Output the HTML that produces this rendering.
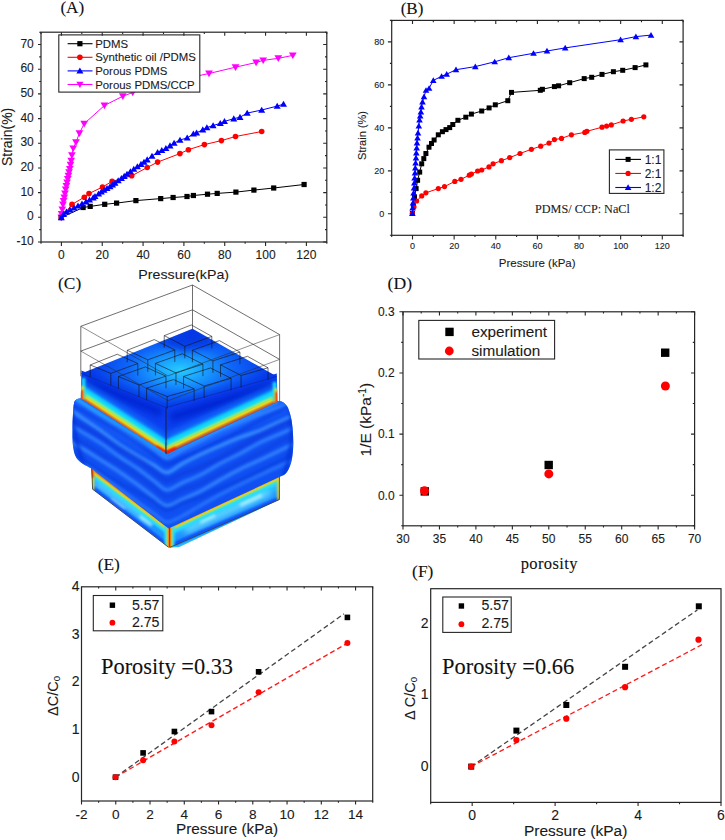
<!DOCTYPE html>
<html><head><meta charset="utf-8"><style>
html,body{margin:0;padding:0;background:#fff;}
body{width:725px;height:840px;overflow:hidden;}
svg{display:block;}
</style></head><body>
<svg width="725" height="840" viewBox="0 0 725 840">
<rect width="725" height="840" fill="#fff"/>
<path d="M61.3 217.5L61.6 214.1L62.3 209.5L63 204.5L63.6 201L64.3 197.6L65 193.5L65.7 189.4L66.4 186L67.1 182.6L67.8 179L68.4 175.7L69.1 172.3L69.8 168.9L70.5 164.8L71.2 160.7L71.9 155.2L73.2 148.4L76 142.2L79.4 133.3L84.2 123.7L104.4 105.5L122.8 96.2L132.7 92.5L150 87L170 82L190 77.5L209 73.5L235.5 67.2L256.1 62.5L263.2 60.4L278.3 58.3L292.8 55.4" stroke="#ff00ff" stroke-width="1.0" fill="none"/>
<path d="M61.3 221.18L65.15 214.53L57.45 214.53Z" fill="#ff00ff"/>
<path d="M61.6 217.78L65.45 211.12L57.75 211.12Z" fill="#ff00ff"/>
<path d="M62.3 213.18L66.15 206.53L58.45 206.53Z" fill="#ff00ff"/>
<path d="M63 208.18L66.85 201.53L59.15 201.53Z" fill="#ff00ff"/>
<path d="M63.6 204.68L67.45 198.03L59.75 198.03Z" fill="#ff00ff"/>
<path d="M64.3 201.28L68.15 194.62L60.45 194.62Z" fill="#ff00ff"/>
<path d="M65 197.18L68.85 190.53L61.15 190.53Z" fill="#ff00ff"/>
<path d="M65.7 193.08L69.55 186.43L61.85 186.43Z" fill="#ff00ff"/>
<path d="M66.4 189.68L70.25 183.03L62.55 183.03Z" fill="#ff00ff"/>
<path d="M67.1 186.28L70.95 179.62L63.25 179.62Z" fill="#ff00ff"/>
<path d="M67.8 182.68L71.65 176.03L63.95 176.03Z" fill="#ff00ff"/>
<path d="M68.4 179.38L72.25 172.72L64.55 172.72Z" fill="#ff00ff"/>
<path d="M69.1 175.98L72.95 169.33L65.25 169.33Z" fill="#ff00ff"/>
<path d="M69.8 172.58L73.65 165.93L65.95 165.93Z" fill="#ff00ff"/>
<path d="M70.5 168.48L74.35 161.83L66.65 161.83Z" fill="#ff00ff"/>
<path d="M71.2 164.38L75.05 157.72L67.35 157.72Z" fill="#ff00ff"/>
<path d="M71.9 158.88L75.75 152.22L68.05 152.22Z" fill="#ff00ff"/>
<path d="M73.2 152.08L77.05 145.43L69.35 145.43Z" fill="#ff00ff"/>
<path d="M76 145.88L79.85 139.22L72.15 139.22Z" fill="#ff00ff"/>
<path d="M79.4 136.98L83.25 130.33L75.55 130.33Z" fill="#ff00ff"/>
<path d="M84.2 127.38L88.05 120.73L80.35 120.73Z" fill="#ff00ff"/>
<path d="M104.4 109.17L108.25 102.53L100.55 102.53Z" fill="#ff00ff"/>
<path d="M122.8 99.88L126.65 93.23L118.95 93.23Z" fill="#ff00ff"/>
<path d="M132.7 96.17L136.55 89.53L128.85 89.53Z" fill="#ff00ff"/>
<path d="M150 90.67L153.85 84.03L146.15 84.03Z" fill="#ff00ff"/>
<path d="M170 85.67L173.85 79.03L166.15 79.03Z" fill="#ff00ff"/>
<path d="M190 81.17L193.85 74.53L186.15 74.53Z" fill="#ff00ff"/>
<path d="M209 77.17L212.85 70.53L205.15 70.53Z" fill="#ff00ff"/>
<path d="M235.5 70.88L239.35 64.23L231.65 64.23Z" fill="#ff00ff"/>
<path d="M256.1 66.17L259.95 59.52L252.25 59.52Z" fill="#ff00ff"/>
<path d="M263.2 64.08L267.05 57.42L259.35 57.42Z" fill="#ff00ff"/>
<path d="M278.3 61.97L282.15 55.32L274.45 55.32Z" fill="#ff00ff"/>
<path d="M292.8 59.07L296.65 52.42L288.95 52.42Z" fill="#ff00ff"/>
<path d="M61.3 217.5L83.1 207.5L90.2 206.4L104.7 204.3L116.6 203.1L135.9 200.6L160.7 198.6L173.1 197.5L187 196.5L193.4 195.5L207.5 194.2L217.2 193.4L235.9 192.1L253.9 190.1L273.7 188L304.1 184.5" stroke="#000" stroke-width="1.0" fill="none"/>
<rect x="58.7" y="214.9" width="5.2" height="5.2" fill="#000"/>
<rect x="80.5" y="204.9" width="5.2" height="5.2" fill="#000"/>
<rect x="87.6" y="203.8" width="5.2" height="5.2" fill="#000"/>
<rect x="102.1" y="201.7" width="5.2" height="5.2" fill="#000"/>
<rect x="114" y="200.5" width="5.2" height="5.2" fill="#000"/>
<rect x="133.3" y="198" width="5.2" height="5.2" fill="#000"/>
<rect x="158.1" y="196" width="5.2" height="5.2" fill="#000"/>
<rect x="170.5" y="194.9" width="5.2" height="5.2" fill="#000"/>
<rect x="184.4" y="193.9" width="5.2" height="5.2" fill="#000"/>
<rect x="190.8" y="192.9" width="5.2" height="5.2" fill="#000"/>
<rect x="204.9" y="191.6" width="5.2" height="5.2" fill="#000"/>
<rect x="214.6" y="190.8" width="5.2" height="5.2" fill="#000"/>
<rect x="233.3" y="189.5" width="5.2" height="5.2" fill="#000"/>
<rect x="251.3" y="187.5" width="5.2" height="5.2" fill="#000"/>
<rect x="271.1" y="185.4" width="5.2" height="5.2" fill="#000"/>
<rect x="301.5" y="181.9" width="5.2" height="5.2" fill="#000"/>
<path d="M61.3 217.5L72 204.4L84.3 197.2L89 193.6L102.5 187L112.1 181.4L131.7 175.8L147.2 167.5L157.6 162.1L179.9 153.6L188.4 149.7L204.4 144.6L221.4 140.6L235.5 136.5L261.7 131.5" stroke="#ff0000" stroke-width="1.0" fill="none"/>
<circle cx="61.3" cy="217.5" r="2.8" fill="#ff0000"/>
<circle cx="72" cy="204.4" r="2.8" fill="#ff0000"/>
<circle cx="84.3" cy="197.2" r="2.8" fill="#ff0000"/>
<circle cx="89" cy="193.6" r="2.8" fill="#ff0000"/>
<circle cx="102.5" cy="187" r="2.8" fill="#ff0000"/>
<circle cx="112.1" cy="181.4" r="2.8" fill="#ff0000"/>
<circle cx="131.7" cy="175.8" r="2.8" fill="#ff0000"/>
<circle cx="147.2" cy="167.5" r="2.8" fill="#ff0000"/>
<circle cx="157.6" cy="162.1" r="2.8" fill="#ff0000"/>
<circle cx="179.9" cy="153.6" r="2.8" fill="#ff0000"/>
<circle cx="188.4" cy="149.7" r="2.8" fill="#ff0000"/>
<circle cx="204.4" cy="144.6" r="2.8" fill="#ff0000"/>
<circle cx="221.4" cy="140.6" r="2.8" fill="#ff0000"/>
<circle cx="235.5" cy="136.5" r="2.8" fill="#ff0000"/>
<circle cx="261.7" cy="131.5" r="2.8" fill="#ff0000"/>
<path d="M61.3 217.5L63.5 214.2L66.5 211.8L70 209.8L74 207.8L78 205.8L82 203.8L86 201.7L89.5 199.9L93.2 197.7L95 196.4L98.6 193.8L101.3 191.9L104 190L107 188.3L110 186.6L112.5 184.8L115 183L118.2 180.6L121.4 178.3L124.2 176.2L127 174L130.4 171.5L133.8 169L137.4 166.6L141 164.2L144 162L147.2 159.7L152 156L157.6 152.4L161.8 150.3L165.9 148.3L170 145.7L174.1 143.1L180 140L187.2 137.9L193.4 133.8L196.6 132.8L202.8 129.7L206.9 127.6L213.1 125.5L220.3 123.4L224.5 121.4L233.8 118.7L240 117.2L247.2 113.1L261.7 110L277.2 106.1L283.5 104.1" stroke="#0000ff" stroke-width="1.0" fill="none"/>
<path d="M61.3 214.14L64.82 220.22L57.78 220.22Z" fill="#0000ff"/>
<path d="M63.5 210.84L67.02 216.92L59.98 216.92Z" fill="#0000ff"/>
<path d="M66.5 208.44L70.02 214.52L62.98 214.52Z" fill="#0000ff"/>
<path d="M70 206.44L73.52 212.52L66.48 212.52Z" fill="#0000ff"/>
<path d="M74 204.44L77.52 210.52L70.48 210.52Z" fill="#0000ff"/>
<path d="M78 202.44L81.52 208.52L74.48 208.52Z" fill="#0000ff"/>
<path d="M82 200.44L85.52 206.52L78.48 206.52Z" fill="#0000ff"/>
<path d="M86 198.34L89.52 204.42L82.48 204.42Z" fill="#0000ff"/>
<path d="M89.5 196.54L93.02 202.62L85.98 202.62Z" fill="#0000ff"/>
<path d="M93.2 194.34L96.72 200.42L89.68 200.42Z" fill="#0000ff"/>
<path d="M95 193.04L98.52 199.12L91.48 199.12Z" fill="#0000ff"/>
<path d="M98.6 190.44L102.12 196.52L95.08 196.52Z" fill="#0000ff"/>
<path d="M101.3 188.54L104.82 194.62L97.78 194.62Z" fill="#0000ff"/>
<path d="M104 186.64L107.52 192.72L100.48 192.72Z" fill="#0000ff"/>
<path d="M107 184.94L110.52 191.02L103.48 191.02Z" fill="#0000ff"/>
<path d="M110 183.24L113.52 189.32L106.48 189.32Z" fill="#0000ff"/>
<path d="M112.5 181.44L116.02 187.52L108.98 187.52Z" fill="#0000ff"/>
<path d="M115 179.64L118.52 185.72L111.48 185.72Z" fill="#0000ff"/>
<path d="M118.2 177.24L121.72 183.32L114.68 183.32Z" fill="#0000ff"/>
<path d="M121.4 174.94L124.92 181.02L117.88 181.02Z" fill="#0000ff"/>
<path d="M124.2 172.84L127.72 178.92L120.68 178.92Z" fill="#0000ff"/>
<path d="M127 170.64L130.52 176.72L123.48 176.72Z" fill="#0000ff"/>
<path d="M130.4 168.14L133.92 174.22L126.88 174.22Z" fill="#0000ff"/>
<path d="M133.8 165.64L137.32 171.72L130.28 171.72Z" fill="#0000ff"/>
<path d="M137.4 163.24L140.92 169.32L133.88 169.32Z" fill="#0000ff"/>
<path d="M141 160.84L144.52 166.92L137.48 166.92Z" fill="#0000ff"/>
<path d="M144 158.64L147.52 164.72L140.48 164.72Z" fill="#0000ff"/>
<path d="M147.2 156.34L150.72 162.42L143.68 162.42Z" fill="#0000ff"/>
<path d="M152 152.64L155.52 158.72L148.48 158.72Z" fill="#0000ff"/>
<path d="M157.6 149.04L161.12 155.12L154.08 155.12Z" fill="#0000ff"/>
<path d="M161.8 146.94L165.32 153.02L158.28 153.02Z" fill="#0000ff"/>
<path d="M165.9 144.94L169.42 151.02L162.38 151.02Z" fill="#0000ff"/>
<path d="M170 142.34L173.52 148.42L166.48 148.42Z" fill="#0000ff"/>
<path d="M174.1 139.74L177.62 145.82L170.58 145.82Z" fill="#0000ff"/>
<path d="M180 136.64L183.52 142.72L176.48 142.72Z" fill="#0000ff"/>
<path d="M187.2 134.54L190.72 140.62L183.68 140.62Z" fill="#0000ff"/>
<path d="M193.4 130.44L196.92 136.52L189.88 136.52Z" fill="#0000ff"/>
<path d="M196.6 129.44L200.12 135.52L193.08 135.52Z" fill="#0000ff"/>
<path d="M202.8 126.34L206.32 132.42L199.28 132.42Z" fill="#0000ff"/>
<path d="M206.9 124.24L210.42 130.32L203.38 130.32Z" fill="#0000ff"/>
<path d="M213.1 122.14L216.62 128.22L209.58 128.22Z" fill="#0000ff"/>
<path d="M220.3 120.04L223.82 126.12L216.78 126.12Z" fill="#0000ff"/>
<path d="M224.5 118.04L228.02 124.12L220.98 124.12Z" fill="#0000ff"/>
<path d="M233.8 115.34L237.32 121.42L230.28 121.42Z" fill="#0000ff"/>
<path d="M240 113.84L243.52 119.92L236.48 119.92Z" fill="#0000ff"/>
<path d="M247.2 109.74L250.72 115.82L243.68 115.82Z" fill="#0000ff"/>
<path d="M261.7 106.64L265.22 112.72L258.18 112.72Z" fill="#0000ff"/>
<path d="M277.2 102.74L280.72 108.82L273.68 108.82Z" fill="#0000ff"/>
<path d="M283.5 100.74L287.02 106.82L279.98 106.82Z" fill="#0000ff"/>
<rect x="58.8" y="34.9" width="141" height="57.2" fill="#fff" stroke="#262626" stroke-width="1.1"/>
<path d="M67.6 43.7H92.5" stroke="#000" stroke-width="1.1"/>
<rect x="77.3" y="41.1" width="5.2" height="5.2" fill="#000"/>
<text x="95.2" y="47.8" font-size="11.4" text-anchor="start" font-family='"Liberation Sans", sans-serif' fill="#1a1a1a" stroke="#1a1a1a" stroke-width="0.1" >PDMS</text>
<path d="M67.6 57.3H92.5" stroke="#ff0000" stroke-width="1.1"/>
<circle cx="79.9" cy="57.3" r="2.8" fill="#ff0000"/>
<text x="95.2" y="61.4" font-size="11.4" text-anchor="start" font-family='"Liberation Sans", sans-serif' fill="#1a1a1a" stroke="#1a1a1a" stroke-width="0.1" >Synthetic oil /PDMS</text>
<path d="M67.6 70.9H92.5" stroke="#0000ff" stroke-width="1.1"/>
<path d="M79.9 67.54L83.42 73.62L76.38 73.62Z" fill="#0000ff"/>
<text x="95.2" y="75" font-size="11.4" text-anchor="start" font-family='"Liberation Sans", sans-serif' fill="#1a1a1a" stroke="#1a1a1a" stroke-width="0.1" >Porous PDMS</text>
<path d="M67.6 84.5H92.5" stroke="#ff00ff" stroke-width="1.1"/>
<path d="M79.9 87.91L83.48 81.74L76.33 81.74Z" fill="#ff00ff"/>
<text x="95.2" y="88.6" font-size="11.4" text-anchor="start" font-family='"Liberation Sans", sans-serif' fill="#1a1a1a" stroke="#1a1a1a" stroke-width="0.1" >Porous PDMS/CCP</text>
<rect x="41" y="32.2" width="285.8" height="209.8" fill="none" stroke="#262626" stroke-width="1.2"/>
<path d="M41 242H38M41 217.32H38M41 192.64H38M41 167.95H38M41 143.27H38M41 118.59H38M41 93.91H38M41 69.22H38M41 44.54H38" stroke="#262626" stroke-width="1.1" fill="none"/>
<path d="M41 229.66H39.2M41 204.98H39.2M41 180.29H39.2M41 155.61H39.2M41 130.93H39.2M41 106.25H39.2M41 81.56H39.2M41 56.88H39.2M41 32.2H39.2" stroke="#262626" stroke-width="1.1" fill="none"/>
<path d="M61.41 242V246.1M102.24 242V246.1M143.07 242V246.1M183.9 242V246.1M224.73 242V246.1M265.56 242V246.1M306.39 242V246.1" stroke="#262626" stroke-width="1.1" fill="none"/>
<path d="M41 242V243.8M81.83 242V243.8M122.66 242V243.8M163.49 242V243.8M204.31 242V243.8M245.14 242V243.8M285.97 242V243.8M326.8 242V243.8" stroke="#262626" stroke-width="1.1" fill="none"/>
<path d="M61.41 32.2V35.8M102.24 32.2V35.8M143.07 32.2V35.8M183.9 32.2V35.8M224.73 32.2V35.8M265.56 32.2V35.8M306.39 32.2V35.8" stroke="#262626" stroke-width="1.1" fill="none"/>
<path d="M41 32.2V34M81.83 32.2V34M122.66 32.2V34M163.49 32.2V34M204.31 32.2V34M245.14 32.2V34M285.97 32.2V34M326.8 32.2V34" stroke="#262626" stroke-width="1.1" fill="none"/>
<path d="M326.8 242H323.2M326.8 217.32H323.2M326.8 192.64H323.2M326.8 167.95H323.2M326.8 143.27H323.2M326.8 118.59H323.2M326.8 93.91H323.2M326.8 69.22H323.2M326.8 44.54H323.2" stroke="#262626" stroke-width="1.1" fill="none"/>
<path d="M326.8 229.66H325M326.8 204.98H325M326.8 180.29H325M326.8 155.61H325M326.8 130.93H325M326.8 106.25H325M326.8 81.56H325M326.8 56.88H325M326.8 32.2H325" stroke="#262626" stroke-width="1.1" fill="none"/>
<text x="33.8" y="245" font-size="12" text-anchor="end" font-family='"Liberation Sans", sans-serif' fill="#1a1a1a" stroke="#1a1a1a" stroke-width="0.1" >-10</text>
<text x="33.8" y="220.32" font-size="12" text-anchor="end" font-family='"Liberation Sans", sans-serif' fill="#1a1a1a" stroke="#1a1a1a" stroke-width="0.1" >0</text>
<text x="33.8" y="195.64" font-size="12" text-anchor="end" font-family='"Liberation Sans", sans-serif' fill="#1a1a1a" stroke="#1a1a1a" stroke-width="0.1" >10</text>
<text x="33.8" y="170.95" font-size="12" text-anchor="end" font-family='"Liberation Sans", sans-serif' fill="#1a1a1a" stroke="#1a1a1a" stroke-width="0.1" >20</text>
<text x="33.8" y="146.27" font-size="12" text-anchor="end" font-family='"Liberation Sans", sans-serif' fill="#1a1a1a" stroke="#1a1a1a" stroke-width="0.1" >30</text>
<text x="33.8" y="121.59" font-size="12" text-anchor="end" font-family='"Liberation Sans", sans-serif' fill="#1a1a1a" stroke="#1a1a1a" stroke-width="0.1" >40</text>
<text x="33.8" y="96.91" font-size="12" text-anchor="end" font-family='"Liberation Sans", sans-serif' fill="#1a1a1a" stroke="#1a1a1a" stroke-width="0.1" >50</text>
<text x="33.8" y="72.22" font-size="12" text-anchor="end" font-family='"Liberation Sans", sans-serif' fill="#1a1a1a" stroke="#1a1a1a" stroke-width="0.1" >60</text>
<text x="33.8" y="47.54" font-size="12" text-anchor="end" font-family='"Liberation Sans", sans-serif' fill="#1a1a1a" stroke="#1a1a1a" stroke-width="0.1" >70</text>
<text x="61.41" y="258.5" font-size="12" text-anchor="middle" font-family='"Liberation Sans", sans-serif' fill="#1a1a1a" stroke="#1a1a1a" stroke-width="0.1" >0</text>
<text x="102.24" y="258.5" font-size="12" text-anchor="middle" font-family='"Liberation Sans", sans-serif' fill="#1a1a1a" stroke="#1a1a1a" stroke-width="0.1" >20</text>
<text x="143.07" y="258.5" font-size="12" text-anchor="middle" font-family='"Liberation Sans", sans-serif' fill="#1a1a1a" stroke="#1a1a1a" stroke-width="0.1" >40</text>
<text x="183.9" y="258.5" font-size="12" text-anchor="middle" font-family='"Liberation Sans", sans-serif' fill="#1a1a1a" stroke="#1a1a1a" stroke-width="0.1" >60</text>
<text x="224.73" y="258.5" font-size="12" text-anchor="middle" font-family='"Liberation Sans", sans-serif' fill="#1a1a1a" stroke="#1a1a1a" stroke-width="0.1" >80</text>
<text x="265.56" y="258.5" font-size="12" text-anchor="middle" font-family='"Liberation Sans", sans-serif' fill="#1a1a1a" stroke="#1a1a1a" stroke-width="0.1" >100</text>
<text x="306.39" y="258.5" font-size="12" text-anchor="middle" font-family='"Liberation Sans", sans-serif' fill="#1a1a1a" stroke="#1a1a1a" stroke-width="0.1" >120</text>
<text x="183.7" y="279.3" font-size="13.4" text-anchor="middle" font-family='"Liberation Sans", sans-serif' fill="#1a1a1a" stroke="#1a1a1a" stroke-width="0.1" transform="translate(183.7 0) scale(1.06 1) translate(-183.7 0)">Pressure(kPa)</text>
<text x="11.8" y="136.9" font-size="14" text-anchor="middle" font-family='"Liberation Sans", sans-serif' fill="#1a1a1a" stroke="#1a1a1a" stroke-width="0.1" transform="rotate(-90 11.8 136.9)">Strain(%)</text>
<text x="60.4" y="13.3" font-size="17.2" text-anchor="start" font-family='"Liberation Serif", serif' fill="#111" stroke="#111" stroke-width="0.1" >(A)</text>
<path d="M412.4 213.5L413.4 205.2L414.5 196.9L416.1 188.6L417.6 180.3L419.7 172.1L421.7 163.8L423.8 158.6L425.9 153.5L429 147.2L431.5 143.5L434.1 140L438.3 134.8L442.4 131.7L446 129.6L449.7 127.6L452.8 124.5L457.9 120.3L465.8 117.2L471.4 114.1L481.7 111L489.1 107.9L495.3 104.8L507.8 100.7L511.5 92.4L540.3 90.3L542.4 89.3L554.4 86.6L558.6 85.8L569.7 82.7L584.2 78.6L591.7 77.3L602 74.4L613.4 71.7L622.7 70.3L635.1 67.6L645.9 64.9" stroke="#000" stroke-width="1.0" fill="none"/>
<rect x="409.9" y="211" width="5" height="5" fill="#000"/>
<rect x="410.9" y="202.7" width="5" height="5" fill="#000"/>
<rect x="412" y="194.4" width="5" height="5" fill="#000"/>
<rect x="413.6" y="186.1" width="5" height="5" fill="#000"/>
<rect x="415.1" y="177.8" width="5" height="5" fill="#000"/>
<rect x="417.2" y="169.6" width="5" height="5" fill="#000"/>
<rect x="419.2" y="161.3" width="5" height="5" fill="#000"/>
<rect x="421.3" y="156.1" width="5" height="5" fill="#000"/>
<rect x="423.4" y="151" width="5" height="5" fill="#000"/>
<rect x="426.5" y="144.7" width="5" height="5" fill="#000"/>
<rect x="429" y="141" width="5" height="5" fill="#000"/>
<rect x="431.6" y="137.5" width="5" height="5" fill="#000"/>
<rect x="435.8" y="132.3" width="5" height="5" fill="#000"/>
<rect x="439.9" y="129.2" width="5" height="5" fill="#000"/>
<rect x="443.5" y="127.1" width="5" height="5" fill="#000"/>
<rect x="447.2" y="125.1" width="5" height="5" fill="#000"/>
<rect x="450.3" y="122" width="5" height="5" fill="#000"/>
<rect x="455.4" y="117.8" width="5" height="5" fill="#000"/>
<rect x="463.3" y="114.7" width="5" height="5" fill="#000"/>
<rect x="468.9" y="111.6" width="5" height="5" fill="#000"/>
<rect x="479.2" y="108.5" width="5" height="5" fill="#000"/>
<rect x="486.6" y="105.4" width="5" height="5" fill="#000"/>
<rect x="492.8" y="102.3" width="5" height="5" fill="#000"/>
<rect x="505.3" y="98.2" width="5" height="5" fill="#000"/>
<rect x="509" y="89.9" width="5" height="5" fill="#000"/>
<rect x="537.8" y="87.8" width="5" height="5" fill="#000"/>
<rect x="539.9" y="86.8" width="5" height="5" fill="#000"/>
<rect x="551.9" y="84.1" width="5" height="5" fill="#000"/>
<rect x="556.1" y="83.3" width="5" height="5" fill="#000"/>
<rect x="567.2" y="80.2" width="5" height="5" fill="#000"/>
<rect x="581.7" y="76.1" width="5" height="5" fill="#000"/>
<rect x="589.2" y="74.8" width="5" height="5" fill="#000"/>
<rect x="599.5" y="71.9" width="5" height="5" fill="#000"/>
<rect x="610.9" y="69.2" width="5" height="5" fill="#000"/>
<rect x="620.2" y="67.8" width="5" height="5" fill="#000"/>
<rect x="632.6" y="65.1" width="5" height="5" fill="#000"/>
<rect x="643.4" y="62.4" width="5" height="5" fill="#000"/>
<path d="M412.4 213.5L414 207L416.6 201L421.7 195.9L425.9 192.8L438.3 188.6L444.5 186.6L454.8 181.4L461 179.3L469.3 175.2L471.4 174.1L477.6 171L481.7 170L489 166.9L493.1 163.8L501.4 160.7L509.7 157.6L520 153.5L531.4 149.3L540.7 146.2L549 143.1L554.4 139.6L561.5 138.4L571.4 134.8L584.8 132.4L586.9 131.3L602 127.2L606.6 126.1L611.3 124.9L623.1 121L631.4 119.3L643.8 116.8" stroke="#ff0000" stroke-width="1.0" fill="none"/>
<circle cx="412.4" cy="213.5" r="2.6" fill="#ff0000"/>
<circle cx="414" cy="207" r="2.6" fill="#ff0000"/>
<circle cx="416.6" cy="201" r="2.6" fill="#ff0000"/>
<circle cx="421.7" cy="195.9" r="2.6" fill="#ff0000"/>
<circle cx="425.9" cy="192.8" r="2.6" fill="#ff0000"/>
<circle cx="438.3" cy="188.6" r="2.6" fill="#ff0000"/>
<circle cx="444.5" cy="186.6" r="2.6" fill="#ff0000"/>
<circle cx="454.8" cy="181.4" r="2.6" fill="#ff0000"/>
<circle cx="461" cy="179.3" r="2.6" fill="#ff0000"/>
<circle cx="469.3" cy="175.2" r="2.6" fill="#ff0000"/>
<circle cx="471.4" cy="174.1" r="2.6" fill="#ff0000"/>
<circle cx="477.6" cy="171" r="2.6" fill="#ff0000"/>
<circle cx="481.7" cy="170" r="2.6" fill="#ff0000"/>
<circle cx="489" cy="166.9" r="2.6" fill="#ff0000"/>
<circle cx="493.1" cy="163.8" r="2.6" fill="#ff0000"/>
<circle cx="501.4" cy="160.7" r="2.6" fill="#ff0000"/>
<circle cx="509.7" cy="157.6" r="2.6" fill="#ff0000"/>
<circle cx="520" cy="153.5" r="2.6" fill="#ff0000"/>
<circle cx="531.4" cy="149.3" r="2.6" fill="#ff0000"/>
<circle cx="540.7" cy="146.2" r="2.6" fill="#ff0000"/>
<circle cx="549" cy="143.1" r="2.6" fill="#ff0000"/>
<circle cx="554.4" cy="139.6" r="2.6" fill="#ff0000"/>
<circle cx="561.5" cy="138.4" r="2.6" fill="#ff0000"/>
<circle cx="571.4" cy="134.8" r="2.6" fill="#ff0000"/>
<circle cx="584.8" cy="132.4" r="2.6" fill="#ff0000"/>
<circle cx="586.9" cy="131.3" r="2.6" fill="#ff0000"/>
<circle cx="602" cy="127.2" r="2.6" fill="#ff0000"/>
<circle cx="606.6" cy="126.1" r="2.6" fill="#ff0000"/>
<circle cx="611.3" cy="124.9" r="2.6" fill="#ff0000"/>
<circle cx="623.1" cy="121" r="2.6" fill="#ff0000"/>
<circle cx="631.4" cy="119.3" r="2.6" fill="#ff0000"/>
<circle cx="643.8" cy="116.8" r="2.6" fill="#ff0000"/>
<path d="M412.4 213.5L412.6 208L413 203L413.3 198L413.6 193L414 188L414.3 183L414.6 178L415 173L415.3 168L415.6 163L416 158L416.3 153L416.7 148L417 143L417.5 138L418 133L418.8 126L419.5 120L420.2 116L420.9 112L421.5 107L422.5 102L424 96.6L426 90.3L429.1 88.3L433.3 80.4L441.6 76.3L446.7 74.2L456 69.7L475.3 66.6L494.7 61.8L508.8 57.7L533.5 53.3L547 51L565.2 47.9L620.6 39.7L635.9 36.6L651 35.1" stroke="#0000ff" stroke-width="1.0" fill="none"/>
<path d="M412.4 210.35L415.7 216.05L409.1 216.05Z" fill="#0000ff"/>
<path d="M412.6 204.85L415.9 210.55L409.3 210.55Z" fill="#0000ff"/>
<path d="M413 199.85L416.3 205.55L409.7 205.55Z" fill="#0000ff"/>
<path d="M413.3 194.85L416.6 200.55L410 200.55Z" fill="#0000ff"/>
<path d="M413.6 189.85L416.9 195.55L410.3 195.55Z" fill="#0000ff"/>
<path d="M414 184.85L417.3 190.55L410.7 190.55Z" fill="#0000ff"/>
<path d="M414.3 179.85L417.6 185.55L411 185.55Z" fill="#0000ff"/>
<path d="M414.6 174.85L417.9 180.55L411.3 180.55Z" fill="#0000ff"/>
<path d="M415 169.85L418.3 175.55L411.7 175.55Z" fill="#0000ff"/>
<path d="M415.3 164.85L418.6 170.55L412 170.55Z" fill="#0000ff"/>
<path d="M415.6 159.85L418.9 165.55L412.3 165.55Z" fill="#0000ff"/>
<path d="M416 154.85L419.3 160.55L412.7 160.55Z" fill="#0000ff"/>
<path d="M416.3 149.85L419.6 155.55L413 155.55Z" fill="#0000ff"/>
<path d="M416.7 144.85L420 150.55L413.4 150.55Z" fill="#0000ff"/>
<path d="M417 139.85L420.3 145.55L413.7 145.55Z" fill="#0000ff"/>
<path d="M417.5 134.85L420.8 140.55L414.2 140.55Z" fill="#0000ff"/>
<path d="M418 129.85L421.3 135.55L414.7 135.55Z" fill="#0000ff"/>
<path d="M418.8 122.85L422.1 128.55L415.5 128.55Z" fill="#0000ff"/>
<path d="M419.5 116.85L422.8 122.55L416.2 122.55Z" fill="#0000ff"/>
<path d="M420.2 112.85L423.5 118.55L416.9 118.55Z" fill="#0000ff"/>
<path d="M420.9 108.85L424.2 114.55L417.6 114.55Z" fill="#0000ff"/>
<path d="M421.5 103.85L424.8 109.55L418.2 109.55Z" fill="#0000ff"/>
<path d="M422.5 98.85L425.8 104.55L419.2 104.55Z" fill="#0000ff"/>
<path d="M424 93.45L427.3 99.15L420.7 99.15Z" fill="#0000ff"/>
<path d="M426 87.15L429.3 92.85L422.7 92.85Z" fill="#0000ff"/>
<path d="M429.1 85.15L432.4 90.85L425.8 90.85Z" fill="#0000ff"/>
<path d="M433.3 77.25L436.6 82.95L430 82.95Z" fill="#0000ff"/>
<path d="M441.6 73.15L444.9 78.85L438.3 78.85Z" fill="#0000ff"/>
<path d="M446.7 71.05L450 76.75L443.4 76.75Z" fill="#0000ff"/>
<path d="M456 66.55L459.3 72.25L452.7 72.25Z" fill="#0000ff"/>
<path d="M475.3 63.45L478.6 69.15L472 69.15Z" fill="#0000ff"/>
<path d="M494.7 58.65L498 64.35L491.4 64.35Z" fill="#0000ff"/>
<path d="M508.8 54.55L512.1 60.25L505.5 60.25Z" fill="#0000ff"/>
<path d="M533.5 50.15L536.8 55.85L530.2 55.85Z" fill="#0000ff"/>
<path d="M547 47.85L550.3 53.55L543.7 53.55Z" fill="#0000ff"/>
<path d="M565.2 44.75L568.5 50.45L561.9 50.45Z" fill="#0000ff"/>
<path d="M620.6 36.55L623.9 42.25L617.3 42.25Z" fill="#0000ff"/>
<path d="M635.9 33.45L639.2 39.15L632.6 39.15Z" fill="#0000ff"/>
<path d="M651 31.95L654.3 37.65L647.7 37.65Z" fill="#0000ff"/>
<rect x="391.7" y="20.4" width="291.4" height="214.9" fill="none" stroke="#262626" stroke-width="1.2"/>
<path d="M391.7 213.81H387.9M391.7 170.83H387.9M391.7 127.85H387.9M391.7 84.87H387.9M391.7 41.89H387.9" stroke="#262626" stroke-width="1.1" fill="none"/>
<path d="M391.7 235.3H389.9M391.7 192.32H389.9M391.7 149.34H389.9M391.7 106.36H389.9M391.7 63.38H389.9M391.7 20.4H389.9" stroke="#262626" stroke-width="1.1" fill="none"/>
<path d="M412.51 235.3V239.5M454.14 235.3V239.5M495.77 235.3V239.5M537.4 235.3V239.5M579.03 235.3V239.5M620.66 235.3V239.5M662.29 235.3V239.5" stroke="#262626" stroke-width="1.1" fill="none"/>
<path d="M391.7 235.3V237.1M433.33 235.3V237.1M474.96 235.3V237.1M516.59 235.3V237.1M558.21 235.3V237.1M599.84 235.3V237.1M641.47 235.3V237.1M683.1 235.3V237.1" stroke="#262626" stroke-width="1.1" fill="none"/>
<path d="M412.51 20.4V24M454.14 20.4V24M495.77 20.4V24M537.4 20.4V24M579.03 20.4V24M620.66 20.4V24M662.29 20.4V24" stroke="#262626" stroke-width="1.1" fill="none"/>
<path d="M391.7 20.4V22.2M433.33 20.4V22.2M474.96 20.4V22.2M516.59 20.4V22.2M558.21 20.4V22.2M599.84 20.4V22.2M641.47 20.4V22.2M683.1 20.4V22.2" stroke="#262626" stroke-width="1.1" fill="none"/>
<path d="M683.1 213.81H679.5M683.1 170.83H679.5M683.1 127.85H679.5M683.1 84.87H679.5M683.1 41.89H679.5" stroke="#262626" stroke-width="1.1" fill="none"/>
<path d="M683.1 235.3H681.3M683.1 192.32H681.3M683.1 149.34H681.3M683.1 106.36H681.3M683.1 63.38H681.3M683.1 20.4H681.3" stroke="#262626" stroke-width="1.1" fill="none"/>
<text x="384.2" y="217.01" font-size="9" text-anchor="end" font-family='"Liberation Sans", sans-serif' fill="#1a1a1a" stroke="#1a1a1a" stroke-width="0.1" >0</text>
<text x="384.2" y="174.03" font-size="9" text-anchor="end" font-family='"Liberation Sans", sans-serif' fill="#1a1a1a" stroke="#1a1a1a" stroke-width="0.1" >20</text>
<text x="384.2" y="131.05" font-size="9" text-anchor="end" font-family='"Liberation Sans", sans-serif' fill="#1a1a1a" stroke="#1a1a1a" stroke-width="0.1" >40</text>
<text x="384.2" y="88.07" font-size="9" text-anchor="end" font-family='"Liberation Sans", sans-serif' fill="#1a1a1a" stroke="#1a1a1a" stroke-width="0.1" >60</text>
<text x="384.2" y="45.09" font-size="9" text-anchor="end" font-family='"Liberation Sans", sans-serif' fill="#1a1a1a" stroke="#1a1a1a" stroke-width="0.1" >80</text>
<text x="412.51" y="249.2" font-size="9" text-anchor="middle" font-family='"Liberation Sans", sans-serif' fill="#1a1a1a" stroke="#1a1a1a" stroke-width="0.1" >0</text>
<text x="454.14" y="249.2" font-size="9" text-anchor="middle" font-family='"Liberation Sans", sans-serif' fill="#1a1a1a" stroke="#1a1a1a" stroke-width="0.1" >20</text>
<text x="495.77" y="249.2" font-size="9" text-anchor="middle" font-family='"Liberation Sans", sans-serif' fill="#1a1a1a" stroke="#1a1a1a" stroke-width="0.1" >40</text>
<text x="537.4" y="249.2" font-size="9" text-anchor="middle" font-family='"Liberation Sans", sans-serif' fill="#1a1a1a" stroke="#1a1a1a" stroke-width="0.1" >60</text>
<text x="579.03" y="249.2" font-size="9" text-anchor="middle" font-family='"Liberation Sans", sans-serif' fill="#1a1a1a" stroke="#1a1a1a" stroke-width="0.1" >80</text>
<text x="620.66" y="249.2" font-size="9" text-anchor="middle" font-family='"Liberation Sans", sans-serif' fill="#1a1a1a" stroke="#1a1a1a" stroke-width="0.1" >100</text>
<text x="662.29" y="249.2" font-size="9" text-anchor="middle" font-family='"Liberation Sans", sans-serif' fill="#1a1a1a" stroke="#1a1a1a" stroke-width="0.1" >120</text>
<text x="537.2" y="266.8" font-size="11.5" text-anchor="middle" font-family='"Liberation Sans", sans-serif' fill="#1a1a1a" stroke="#1a1a1a" stroke-width="0.1" >Pressure (kPa)</text>
<text x="365.8" y="135.5" font-size="11" text-anchor="middle" font-family='"Liberation Sans", sans-serif' fill="#1a1a1a" stroke="#1a1a1a" stroke-width="0.1" transform="rotate(-90 365.8 135.5)">Strain (%)</text>
<rect x="609.4" y="149.9" width="54.5" height="43.5" fill="#fff" stroke="#262626" stroke-width="1.1"/>
<path d="M615.3 159.4H641" stroke="#000" stroke-width="1.1"/>
<rect x="625.6" y="156.9" width="5" height="5" fill="#000"/>
<text x="644.7" y="163.6" font-size="12" text-anchor="start" font-family='"Liberation Sans", sans-serif' fill="#1a1a1a" stroke="#1a1a1a" stroke-width="0.1" >1:1</text>
<path d="M615.3 173.45H641" stroke="#ff0000" stroke-width="1.1"/>
<circle cx="628.1" cy="173.45" r="2.6" fill="#ff0000"/>
<text x="644.7" y="177.65" font-size="12" text-anchor="start" font-family='"Liberation Sans", sans-serif' fill="#1a1a1a" stroke="#1a1a1a" stroke-width="0.1" >2:1</text>
<path d="M615.3 187.5H641" stroke="#0000ff" stroke-width="1.1"/>
<path d="M628.1 184.35L631.4 190.05L624.8 190.05Z" fill="#0000ff"/>
<text x="644.7" y="191.7" font-size="12" text-anchor="start" font-family='"Liberation Sans", sans-serif' fill="#1a1a1a" stroke="#1a1a1a" stroke-width="0.1" >1:2</text>
<text x="535" y="212.8" font-size="12.2" text-anchor="start" font-family='"Liberation Serif", serif' fill="#222" stroke="#222" stroke-width="0.1" >PDMS/ CCP: NaCl</text>
<text x="400.7" y="13.7" font-size="17" text-anchor="start" font-family='"Liberation Serif", serif' fill="#111" stroke="#111" stroke-width="0.1" >(B)</text>
<rect x="420.6" y="487.2" width="8.4" height="8.4" fill="#000"/>
<rect x="544.5" y="460.8" width="8.4" height="8.4" fill="#000"/>
<rect x="661" y="348.5" width="8.4" height="8.4" fill="#000"/>
<circle cx="424.5" cy="490.7" r="4.5" fill="#ff0000"/>
<circle cx="548.8" cy="473.9" r="4.5" fill="#ff0000"/>
<circle cx="665.4" cy="386" r="4.5" fill="#ff0000"/>
<rect x="403" y="311.8" width="291.6" height="214" fill="none" stroke="#262626" stroke-width="1.2"/>
<path d="M403 495.23H399.4M403 434.09H399.4M403 372.94H399.4M403 311.8H399.4" stroke="#262626" stroke-width="1.1" fill="none"/>
<path d="M403 525.8H401.2M403 464.66H401.2M403 403.51H401.2M403 342.37H401.2" stroke="#262626" stroke-width="1.1" fill="none"/>
<path d="M403 525.8V529.4M439.45 525.8V529.4M475.9 525.8V529.4M512.35 525.8V529.4M548.8 525.8V529.4M585.25 525.8V529.4M621.7 525.8V529.4M658.15 525.8V529.4M694.6 525.8V529.4" stroke="#262626" stroke-width="1.1" fill="none"/>
<path d="M421.23 525.8V527.6M457.68 525.8V527.6M494.12 525.8V527.6M530.58 525.8V527.6M567.03 525.8V527.6M603.48 525.8V527.6M639.92 525.8V527.6M676.38 525.8V527.6" stroke="#262626" stroke-width="1.1" fill="none"/>
<path d="M403 311.8V315.4M439.45 311.8V315.4M475.9 311.8V315.4M512.35 311.8V315.4M548.8 311.8V315.4M585.25 311.8V315.4M621.7 311.8V315.4M658.15 311.8V315.4M694.6 311.8V315.4" stroke="#262626" stroke-width="1.1" fill="none"/>
<path d="M421.23 311.8V313.6M457.68 311.8V313.6M494.12 311.8V313.6M530.58 311.8V313.6M567.03 311.8V313.6M603.48 311.8V313.6M639.92 311.8V313.6M676.38 311.8V313.6" stroke="#262626" stroke-width="1.1" fill="none"/>
<path d="M694.6 495.23H691M694.6 434.09H691M694.6 372.94H691M694.6 311.8H691" stroke="#262626" stroke-width="1.1" fill="none"/>
<path d="M694.6 525.8H692.8M694.6 464.66H692.8M694.6 403.51H692.8M694.6 342.37H692.8" stroke="#262626" stroke-width="1.1" fill="none"/>
<text x="394.6" y="499.53" font-size="12" text-anchor="end" font-family='"Liberation Sans", sans-serif' fill="#1a1a1a" stroke="#1a1a1a" stroke-width="0.1" >0.0</text>
<text x="394.6" y="438.39" font-size="12" text-anchor="end" font-family='"Liberation Sans", sans-serif' fill="#1a1a1a" stroke="#1a1a1a" stroke-width="0.1" >0.1</text>
<text x="394.6" y="377.24" font-size="12" text-anchor="end" font-family='"Liberation Sans", sans-serif' fill="#1a1a1a" stroke="#1a1a1a" stroke-width="0.1" >0.2</text>
<text x="394.6" y="316.1" font-size="12" text-anchor="end" font-family='"Liberation Sans", sans-serif' fill="#1a1a1a" stroke="#1a1a1a" stroke-width="0.1" >0.3</text>
<text x="403" y="543.4" font-size="12" text-anchor="middle" font-family='"Liberation Sans", sans-serif' fill="#1a1a1a" stroke="#1a1a1a" stroke-width="0.1" >30</text>
<text x="439.45" y="543.4" font-size="12" text-anchor="middle" font-family='"Liberation Sans", sans-serif' fill="#1a1a1a" stroke="#1a1a1a" stroke-width="0.1" >35</text>
<text x="475.9" y="543.4" font-size="12" text-anchor="middle" font-family='"Liberation Sans", sans-serif' fill="#1a1a1a" stroke="#1a1a1a" stroke-width="0.1" >40</text>
<text x="512.35" y="543.4" font-size="12" text-anchor="middle" font-family='"Liberation Sans", sans-serif' fill="#1a1a1a" stroke="#1a1a1a" stroke-width="0.1" >45</text>
<text x="548.8" y="543.4" font-size="12" text-anchor="middle" font-family='"Liberation Sans", sans-serif' fill="#1a1a1a" stroke="#1a1a1a" stroke-width="0.1" >50</text>
<text x="585.25" y="543.4" font-size="12" text-anchor="middle" font-family='"Liberation Sans", sans-serif' fill="#1a1a1a" stroke="#1a1a1a" stroke-width="0.1" >55</text>
<text x="621.7" y="543.4" font-size="12" text-anchor="middle" font-family='"Liberation Sans", sans-serif' fill="#1a1a1a" stroke="#1a1a1a" stroke-width="0.1" >60</text>
<text x="658.15" y="543.4" font-size="12" text-anchor="middle" font-family='"Liberation Sans", sans-serif' fill="#1a1a1a" stroke="#1a1a1a" stroke-width="0.1" >65</text>
<text x="694.6" y="543.4" font-size="12" text-anchor="middle" font-family='"Liberation Sans", sans-serif' fill="#1a1a1a" stroke="#1a1a1a" stroke-width="0.1" >70</text>
<rect x="418.8" y="320.4" width="135.8" height="38.6" fill="#fff" stroke="#262626" stroke-width="1.1"/>
<rect x="445.3" y="327.7" width="8.4" height="8.4" fill="#000"/>
<circle cx="449.3" cy="351" r="4.4" fill="#ff0000"/>
<text x="471.4" y="337" font-size="15.3" text-anchor="start" font-family='"Liberation Sans", sans-serif' fill="#1a1a1a" stroke="#1a1a1a" stroke-width="0.1" >experiment</text>
<text x="471.4" y="356.2" font-size="15.3" text-anchor="start" font-family='"Liberation Sans", sans-serif' fill="#1a1a1a" stroke="#1a1a1a" stroke-width="0.1" >simulation</text>
<text x="549.3" y="568.6" font-size="16.5" text-anchor="middle" font-family='"Liberation Serif", serif' fill="#111" stroke="#111" stroke-width="0.1" letter-spacing="0.4">porosity</text>
<text x="371.1" y="419.7" font-size="15.5" text-anchor="middle" font-family='"Liberation Sans", sans-serif' fill="#1a1a1a" stroke="#1a1a1a" stroke-width="0.1" transform="rotate(-90 371.1 419.7)">1/E (kPa<tspan font-size="10" dy="-5">-1</tspan><tspan dy="5">)</tspan></text>
<text x="387.6" y="289.3" font-size="17.6" text-anchor="start" font-family='"Liberation Serif", serif' fill="#111" stroke="#111" stroke-width="0.1" >(D)</text>
<path d="M115.5 777.2L343.9 613.9" stroke="#444" stroke-width="1.3" stroke-dasharray="5 3" fill="none"/>
<path d="M115.5 777.2L345.9 644" stroke="#ff1a1a" stroke-width="1.3" stroke-dasharray="5 3" fill="none"/>
<rect x="112.7" y="774.4" width="5.6" height="5.6" fill="#000"/>
<rect x="140.3" y="750.1" width="5.6" height="5.6" fill="#000"/>
<rect x="171.6" y="728.7" width="5.6" height="5.6" fill="#000"/>
<rect x="208.7" y="708.8" width="5.6" height="5.6" fill="#000"/>
<rect x="255.8" y="669" width="5.6" height="5.6" fill="#000"/>
<rect x="344.6" y="614.6" width="5.6" height="5.6" fill="#000"/>
<circle cx="115.5" cy="777.2" r="3" fill="#ff0000"/>
<circle cx="143.1" cy="760.2" r="3" fill="#ff0000"/>
<circle cx="174.4" cy="741.4" r="3" fill="#ff0000"/>
<circle cx="211.5" cy="725.3" r="3" fill="#ff0000"/>
<circle cx="258.6" cy="692.3" r="3" fill="#ff0000"/>
<circle cx="347.4" cy="642.9" r="3" fill="#ff0000"/>
<rect x="81.5" y="586.8" width="291.2" height="214.2" fill="none" stroke="#262626" stroke-width="1.2"/>
<path d="M81.5 801V804.6M115.76 801V804.6M150.02 801V804.6M184.28 801V804.6M218.54 801V804.6M252.79 801V804.6M287.05 801V804.6M321.31 801V804.6M355.57 801V804.6" stroke="#262626" stroke-width="1.1" fill="none"/>
<path d="M98.63 801V802.8M132.89 801V802.8M167.15 801V802.8M201.41 801V802.8M235.66 801V802.8M269.92 801V802.8M304.18 801V802.8M338.44 801V802.8M372.7 801V802.8" stroke="#262626" stroke-width="1.1" fill="none"/>
<path d="M81.5 586.8V590.4M115.76 586.8V590.4M150.02 586.8V590.4M184.28 586.8V590.4M218.54 586.8V590.4M252.79 586.8V590.4M287.05 586.8V590.4M321.31 586.8V590.4M355.57 586.8V590.4" stroke="#262626" stroke-width="1.1" fill="none"/>
<path d="M98.63 586.8V588.6M132.89 586.8V588.6M167.15 586.8V588.6M201.41 586.8V588.6M235.66 586.8V588.6M269.92 586.8V588.6M304.18 586.8V588.6M338.44 586.8V588.6M372.7 586.8V588.6" stroke="#262626" stroke-width="1.1" fill="none"/>
<text x="79.6" y="781.5" font-size="14" text-anchor="end" font-family='"Liberation Sans", sans-serif' fill="#1a1a1a" stroke="#1a1a1a" stroke-width="0.1" >0</text>
<text x="79.6" y="733.9" font-size="14" text-anchor="end" font-family='"Liberation Sans", sans-serif' fill="#1a1a1a" stroke="#1a1a1a" stroke-width="0.1" >1</text>
<text x="79.6" y="686.3" font-size="14" text-anchor="end" font-family='"Liberation Sans", sans-serif' fill="#1a1a1a" stroke="#1a1a1a" stroke-width="0.1" >2</text>
<text x="79.6" y="638.7" font-size="14" text-anchor="end" font-family='"Liberation Sans", sans-serif' fill="#1a1a1a" stroke="#1a1a1a" stroke-width="0.1" >3</text>
<text x="79.6" y="591.1" font-size="14" text-anchor="end" font-family='"Liberation Sans", sans-serif' fill="#1a1a1a" stroke="#1a1a1a" stroke-width="0.1" >4</text>
<text x="81.5" y="819.2" font-size="13.6" text-anchor="middle" font-family='"Liberation Sans", sans-serif' fill="#1a1a1a" stroke="#1a1a1a" stroke-width="0.1" >-2</text>
<text x="115.76" y="819.2" font-size="13.6" text-anchor="middle" font-family='"Liberation Sans", sans-serif' fill="#1a1a1a" stroke="#1a1a1a" stroke-width="0.1" >0</text>
<text x="150.02" y="819.2" font-size="13.6" text-anchor="middle" font-family='"Liberation Sans", sans-serif' fill="#1a1a1a" stroke="#1a1a1a" stroke-width="0.1" >2</text>
<text x="184.28" y="819.2" font-size="13.6" text-anchor="middle" font-family='"Liberation Sans", sans-serif' fill="#1a1a1a" stroke="#1a1a1a" stroke-width="0.1" >4</text>
<text x="218.54" y="819.2" font-size="13.6" text-anchor="middle" font-family='"Liberation Sans", sans-serif' fill="#1a1a1a" stroke="#1a1a1a" stroke-width="0.1" >6</text>
<text x="252.79" y="819.2" font-size="13.6" text-anchor="middle" font-family='"Liberation Sans", sans-serif' fill="#1a1a1a" stroke="#1a1a1a" stroke-width="0.1" >8</text>
<text x="287.05" y="819.2" font-size="13.6" text-anchor="middle" font-family='"Liberation Sans", sans-serif' fill="#1a1a1a" stroke="#1a1a1a" stroke-width="0.1" >10</text>
<text x="321.31" y="819.2" font-size="13.6" text-anchor="middle" font-family='"Liberation Sans", sans-serif' fill="#1a1a1a" stroke="#1a1a1a" stroke-width="0.1" >12</text>
<text x="355.57" y="819.2" font-size="13.6" text-anchor="middle" font-family='"Liberation Sans", sans-serif' fill="#1a1a1a" stroke="#1a1a1a" stroke-width="0.1" >14</text>
<rect x="93.3" y="595.5" width="69.5" height="35.3" fill="#fff" stroke="#262626" stroke-width="1.1"/>
<rect x="109.7" y="602.5" width="5.4" height="5.4" fill="#000"/>
<circle cx="112.4" cy="622.7" r="2.9" fill="#ff0000"/>
<text x="131.9" y="609.9" font-size="14.2" text-anchor="start" font-family='"Liberation Sans", sans-serif' fill="#1a1a1a" stroke="#1a1a1a" stroke-width="0.1" >5.57</text>
<text x="131.9" y="627.4" font-size="14.2" text-anchor="start" font-family='"Liberation Sans", sans-serif' fill="#1a1a1a" stroke="#1a1a1a" stroke-width="0.1" >2.75</text>
<text x="101" y="673.9" font-size="22.4" text-anchor="start" font-family='"Liberation Serif", serif' fill="#111" stroke="#111" stroke-width="0.1" >Porosity =0.33</text>
<text x="227" y="833.8" font-size="15.3" text-anchor="middle" font-family='"Liberation Sans", sans-serif' fill="#1a1a1a" stroke="#1a1a1a" stroke-width="0.1" >Pressure (kPa)</text>
<text x="57.8" y="696" font-size="14.5" text-anchor="middle" font-family='"Liberation Sans", sans-serif' fill="#1a1a1a" stroke="#1a1a1a" stroke-width="0.1" transform="rotate(-90 57.8 696)">&#916;C/C<tspan font-size="9.5" dy="2">0</tspan></text>
<text x="97.7" y="570" font-size="17.4" text-anchor="start" font-family='"Liberation Serif", serif' fill="#111" stroke="#111" stroke-width="0.1" >(E)</text>
<path d="M471.2 766.6L697.4 609.9" stroke="#444" stroke-width="1.3" stroke-dasharray="5 3" fill="none"/>
<path d="M471.2 766.6L703.8 643.7" stroke="#ff1a1a" stroke-width="1.3" stroke-dasharray="5 3" fill="none"/>
<rect x="468.2" y="763.6" width="6" height="6" fill="#000"/>
<rect x="513.4" y="727.6" width="6" height="6" fill="#000"/>
<rect x="563.3" y="702" width="6" height="6" fill="#000"/>
<rect x="622.1" y="663.8" width="6" height="6" fill="#000"/>
<rect x="695.8" y="603.3" width="6" height="6" fill="#000"/>
<circle cx="471.2" cy="766.6" r="3.1" fill="#ff0000"/>
<circle cx="516.4" cy="740" r="3.1" fill="#ff0000"/>
<circle cx="566.3" cy="718.7" r="3.1" fill="#ff0000"/>
<circle cx="625.1" cy="687.2" r="3.1" fill="#ff0000"/>
<circle cx="698.5" cy="639.7" r="3.1" fill="#ff0000"/>
<rect x="430.7" y="588.7" width="290.3" height="213.7" fill="none" stroke="#262626" stroke-width="1.2"/>
<path d="M472.17 802.4V806M555.11 802.4V806M638.06 802.4V806M721 802.4V806" stroke="#262626" stroke-width="1.1" fill="none"/>
<path d="M430.7 802.4V804.2M513.64 802.4V804.2M596.59 802.4V804.2M679.53 802.4V804.2" stroke="#262626" stroke-width="1.1" fill="none"/>
<text x="428.6" y="770.58" font-size="14" text-anchor="end" font-family='"Liberation Sans", sans-serif' fill="#1a1a1a" stroke="#1a1a1a" stroke-width="0.1" >0</text>
<text x="428.6" y="699.35" font-size="14" text-anchor="end" font-family='"Liberation Sans", sans-serif' fill="#1a1a1a" stroke="#1a1a1a" stroke-width="0.1" >1</text>
<text x="428.6" y="628.12" font-size="14" text-anchor="end" font-family='"Liberation Sans", sans-serif' fill="#1a1a1a" stroke="#1a1a1a" stroke-width="0.1" >2</text>
<text x="472.17" y="820.3" font-size="14" text-anchor="middle" font-family='"Liberation Sans", sans-serif' fill="#1a1a1a" stroke="#1a1a1a" stroke-width="0.1" >0</text>
<text x="555.11" y="820.3" font-size="14" text-anchor="middle" font-family='"Liberation Sans", sans-serif' fill="#1a1a1a" stroke="#1a1a1a" stroke-width="0.1" >2</text>
<text x="638.06" y="820.3" font-size="14" text-anchor="middle" font-family='"Liberation Sans", sans-serif' fill="#1a1a1a" stroke="#1a1a1a" stroke-width="0.1" >4</text>
<text x="721" y="820.3" font-size="14" text-anchor="middle" font-family='"Liberation Sans", sans-serif' fill="#1a1a1a" stroke="#1a1a1a" stroke-width="0.1" >6</text>
<rect x="442.8" y="597" width="68.4" height="35.4" fill="#fff" stroke="#262626" stroke-width="1.1"/>
<rect x="458.7" y="603.3" width="5.4" height="5.4" fill="#000"/>
<circle cx="461.4" cy="624.2" r="2.9" fill="#ff0000"/>
<text x="481.4" y="610.3" font-size="14.2" text-anchor="start" font-family='"Liberation Sans", sans-serif' fill="#1a1a1a" stroke="#1a1a1a" stroke-width="0.1" >5.57</text>
<text x="481.4" y="628.4" font-size="14.2" text-anchor="start" font-family='"Liberation Sans", sans-serif' fill="#1a1a1a" stroke="#1a1a1a" stroke-width="0.1" >2.75</text>
<text x="442.1" y="674.2" font-size="22.4" text-anchor="start" font-family='"Liberation Serif", serif' fill="#111" stroke="#111" stroke-width="0.1" >Porosity =0.66</text>
<text x="575.7" y="835.7" font-size="15.5" text-anchor="middle" font-family='"Liberation Sans", sans-serif' fill="#1a1a1a" stroke="#1a1a1a" stroke-width="0.1" >Pressure (kPa)</text>
<text x="415.2" y="698.5" font-size="14.5" text-anchor="middle" font-family='"Liberation Sans", sans-serif' fill="#1a1a1a" stroke="#1a1a1a" stroke-width="0.1" transform="rotate(-90 415.2 698.5)">&#916; C/C<tspan font-size="9.5" dy="2">0</tspan></text>
<text x="412.1" y="576.8" font-size="17.4" text-anchor="start" font-family='"Liberation Serif", serif' fill="#111" stroke="#111" stroke-width="0.1" >(F)</text>
<defs>
<filter id="bl1" filterUnits="userSpaceOnUse" x="0" y="250" width="360" height="320"><feGaussianBlur stdDeviation="0.9"/></filter>
<filter id="bl2" filterUnits="userSpaceOnUse" x="0" y="250" width="360" height="320"><feGaussianBlur stdDeviation="1.8"/></filter>
<filter id="bl3" filterUnits="userSpaceOnUse" x="0" y="250" width="360" height="320"><feGaussianBlur stdDeviation="3.2"/></filter>
<filter id="bl5" filterUnits="userSpaceOnUse" x="0" y="250" width="360" height="320"><feGaussianBlur stdDeviation="6"/></filter>
<radialGradient id="gTop" cx="180" cy="370" r="80" gradientUnits="userSpaceOnUse" gradientTransform="translate(180 370) scale(1.3 0.62) translate(-180 -370)">
<stop offset="0" stop-color="#26ccff"/><stop offset="0.22" stop-color="#1aa2ff"/><stop offset="0.5" stop-color="#0e66f8"/><stop offset="0.8" stop-color="#0944ee"/><stop offset="1" stop-color="#0530e4"/></radialGradient>
<linearGradient id="gBlk" x1="0" y1="0" x2="0" y2="1"><stop offset="0" stop-color="#40d8ff"/><stop offset="1" stop-color="#38c0ff"/></linearGradient>
</defs>
<clipPath id="cSL"><polygon points="81.4,370.4 166,404.5 166.6,453.5 81.8,399 80.8,399"/></clipPath>
<clipPath id="cSR"><polygon points="166,404.5 276.8,373.5 277.4,402 166,454.5 165.4,453.5"/></clipPath>
<clipPath id="cBu"><path d="M76.5,399.5 C78,398.5 80,398 82,398.8 L166,453.2 L276.8,401.4 C281,400.6 285,402 288,408 C291.5,416 293.2,428 293.3,442 C293.3,455 291.5,466 287,472 C285,474.5 283,475.8 280.5,476.5 L168.5,528.5 L91.5,468.5 C86,465.5 80,463 76.5,458 C72.6,452 72.2,440 72.5,428 C72.7,418 73.2,407 74.2,402.5 C74.6,400.8 75.4,400 76.5,399.5 Z"/></clipPath>
<clipPath id="cBL"><polygon points="91.4,460 91.4,468 92.6,489.2 168.6,547.3 170,547.3 170,515"/></clipPath>
<clipPath id="cBR"><polygon points="169.4,515 169.4,547.3 178.8,547.3 279.4,499.6 279.4,468"/></clipPath>
<path d="M80.8,326.3L192.5,285L279.6,334.6M80.8,351.1L192.5,309.8L279.6,359.4M80.8,326.3L80.8,376.3M192.5,285L192.5,330M279.6,334.6L279.6,402.6" stroke="#4a4a4a" stroke-width="0.8" fill="none"/>
<g clip-path="url(#cBL)"><rect x="86" y="455" width="90" height="95" fill="#2ec4ff"/><path d="M92.6,482 L168.6,540" stroke="#1a78ff" stroke-width="9" filter="url(#bl3)" opacity="0.75"/><path d="M96,482 L150,521" stroke="#70e6ff" stroke-width="6" filter="url(#bl3)" opacity="0.8"/><path d="M110,500 L124,510 M140,516 L152,525" stroke="#b0f4ff" stroke-width="4" filter="url(#bl2)" opacity="0.8"/><path d="M92.6,487.6 L168.6,545.7" stroke="#0a48f8" stroke-width="3.5" filter="url(#bl1)"/><path d="M91,474 L168.5,532.5" stroke="#20e0ff" stroke-width="4" filter="url(#bl1)"/><path d="M91,470.5 L168.5,529" stroke="#ffe600" stroke-width="3.4" filter="url(#bl1)"/><path d="M91,468 L168.5,526.5" stroke="#ff3000" stroke-width="2" filter="url(#bl1)"/><path d="M92.6,466 L92.6,490" stroke="#ffe000" stroke-width="3" filter="url(#bl1)"/><path d="M92,464 L92,478" stroke="#ff2000" stroke-width="3" filter="url(#bl1)"/><path d="M167,518 L167,550" stroke="#20e0ff" stroke-width="5" filter="url(#bl1)"/><path d="M169,518 L169,550" stroke="#ffe000" stroke-width="4" filter="url(#bl1)"/><path d="M169.6,518 L169.6,550" stroke="#ff2000" stroke-width="2" filter="url(#bl1)"/></g>
<g clip-path="url(#cBR)"><rect x="165" y="462" width="120" height="90" fill="#2ec4ff"/><path d="M169.5,541 L279.4,494" stroke="#1a78ff" stroke-width="9" filter="url(#bl3)" opacity="0.75"/><path d="M185,531 L270,492" stroke="#70e6ff" stroke-width="7" filter="url(#bl3)" opacity="0.8"/><path d="M200,522 L215,515 M240,505 L262,495" stroke="#b0f4ff" stroke-width="4" filter="url(#bl2)" opacity="0.8"/><path d="M169.5,545.8 L279.4,498.3" stroke="#0a48f8" stroke-width="3.5" filter="url(#bl1)"/><path d="M169.5,532.5 L279.4,481" stroke="#20e0ff" stroke-width="4" filter="url(#bl1)"/><path d="M169.5,529 L279.4,477.5" stroke="#ffe600" stroke-width="3.4" filter="url(#bl1)"/><path d="M169.5,526.8 L279.4,475.3" stroke="#ff3000" stroke-width="2" filter="url(#bl1)"/><path d="M172,518 L172,550" stroke="#20e0ff" stroke-width="5" filter="url(#bl1)"/><path d="M170,518 L170,550" stroke="#ffe000" stroke-width="4" filter="url(#bl1)"/><path d="M169.5,518 L169.5,550" stroke="#ff2000" stroke-width="2" filter="url(#bl1)"/><path d="M278.6,470 L278.6,500" stroke="#ffd000" stroke-width="2.4" filter="url(#bl1)"/></g>
<path d="M91.6,466 L92.6,489.2 L168.6,547.3 M170,547.3 L279.4,499.6 L279.4,470 M169.6,520 L169.6,547.3" stroke="#3a3a3a" stroke-width="0.8" fill="none"/>
<g clip-path="url(#cBu)"><rect x="65" y="390" width="235" height="145" fill="#1050f2"/><path d="M70,398 L166,455 L296,398" stroke="#1c66ff" stroke-width="14" fill="none" filter="url(#bl3)"/><path d="M66,391.08C69,393.3 78,400.14 84,404.39C90,408.64 96,412.45 102,416.58C108,420.7 114,425.08 120,429.14C126,433.19 132.33,437.45 138,440.91C143.67,444.36 149.17,447.04 154,449.86C158.83,452.69 162.33,457.83 167,457.84C171.67,457.85 176.5,452.75 182,449.91C187.5,447.07 193.67,444.08 200,440.8C206.33,437.52 213.33,433.34 220,430.25C226.67,427.15 233.33,424.92 240,422.22C246.67,419.52 253.33,416.57 260,414.05C266.67,411.52 273.83,409.54 280,407.07C286.17,404.59 294.17,400.52 297,399.21" stroke="#3c92ff" stroke-width="2.86" fill="none" opacity="0.8" filter="url(#bl2)"/><path d="M66,401.62C69,403.25 78,408.09 84,411.43C90,414.77 96,418.26 102,421.65C108,425.04 114,428.17 120,431.78C126,435.38 132.33,439.39 138,443.3C143.67,447.22 149.17,451.85 154,455.27C158.83,458.7 162.33,463.37 167,463.85C171.67,464.32 176.5,460.35 182,458.15C187.5,455.94 193.67,453.52 200,450.63C206.33,447.74 213.33,444.08 220,440.81C226.67,437.55 233.33,434.47 240,431.03C246.67,427.59 253.33,423.6 260,420.18C266.67,416.76 273.83,413.53 280,410.51C286.17,407.48 294.17,403.46 297,402.05" stroke="#0630dc" stroke-width="4.75" fill="none" opacity="0.5" filter="url(#bl2)"/><path d="M66,406.68C69,408.77 78,415.06 84,419.23C90,423.41 96,427.45 102,431.75C108,436.06 114,440.97 120,445.07C126,449.16 132.33,452.92 138,456.31C143.67,459.69 149.17,462.69 154,465.4C158.83,468.1 162.33,472.81 167,472.56C171.67,472.31 176.5,466.88 182,463.91C187.5,460.93 193.67,457.73 200,454.72C206.33,451.7 213.33,448.7 220,445.82C226.67,442.93 233.33,439.93 240,437.4C246.67,434.88 253.33,433.3 260,430.67C266.67,428.04 273.83,424.36 280,421.63C286.17,418.9 294.17,415.52 297,414.3" stroke="#3f98ff" stroke-width="3.63" fill="none" opacity="0.85" filter="url(#bl2)"/><path d="M66,417.64C69,419.15 78,423.42 84,426.69C90,429.95 96,433.53 102,437.26C108,440.99 114,445.29 120,449.07C126,452.84 132.33,456.13 138,459.91C143.67,463.69 149.17,468.37 154,471.74C158.83,475.1 162.33,479.76 167,480.08C171.67,480.41 176.5,475.85 182,473.7C187.5,471.54 193.67,469.74 200,467.15C206.33,464.55 213.33,461.49 220,458.13C226.67,454.77 233.33,450.71 240,447C246.67,443.3 253.33,439.43 260,435.89C266.67,432.36 273.83,428.68 280,425.81C286.17,422.94 294.17,419.88 297,418.69" stroke="#0830d8" stroke-width="5.52" fill="none" opacity="0.45" filter="url(#bl2)"/><path d="M66,422.88C69,424.57 78,429.5 84,433.02C90,436.54 96,439.98 102,444C108,448.03 114,453.01 120,457.15C126,461.3 132.33,464.9 138,468.87C143.67,472.84 149.17,477.47 154,480.98C158.83,484.49 162.33,489.62 167,489.96C171.67,490.3 176.5,485.47 182,483C187.5,480.54 193.67,478.39 200,475.17C206.33,471.94 213.33,467.23 220,463.65C226.67,460.07 233.33,457.18 240,453.67C246.67,450.17 253.33,445.9 260,442.61C266.67,439.33 273.83,436.63 280,433.97C286.17,431.32 294.17,427.89 297,426.68" stroke="#3a8eff" stroke-width="3.18" fill="none" opacity="0.8" filter="url(#bl2)"/><path d="M66,433.46C69,435.05 78,439.55 84,443.01C90,446.47 96,450.72 102,454.2C108,457.68 114,460.29 120,463.9C126,467.5 132.33,471.89 138,475.85C143.67,479.81 149.17,484.21 154,487.67C158.83,491.13 162.33,496.27 167,496.64C171.67,497 176.5,492.03 182,489.88C187.5,487.74 193.67,486.57 200,483.79C206.33,481 213.33,476.66 220,473.17C226.67,469.68 233.33,466.22 240,462.84C246.67,459.45 253.33,456.36 260,452.84C266.67,449.32 273.83,444.93 280,441.74C286.17,438.54 294.17,435 297,433.65" stroke="#0a34d6" stroke-width="4.15" fill="none" opacity="0.4" filter="url(#bl2)"/><path d="M66,439.76C69,441.39 78,445.98 84,449.5C90,453.03 96,457.12 102,460.92C108,464.71 114,468.28 120,472.29C126,476.3 132.33,480.82 138,484.98C143.67,489.15 149.17,493.82 154,497.28C158.83,500.75 162.33,505.39 167,505.77C171.67,506.15 176.5,501.92 182,499.55C187.5,497.18 193.67,494.79 200,491.55C206.33,488.3 213.33,483.79 220,480.07C226.67,476.34 233.33,472.55 240,469.2C246.67,465.86 253.33,463.12 260,460C266.67,456.87 273.83,453.39 280,450.46C286.17,447.54 294.17,443.77 297,442.43" stroke="#3d92ff" stroke-width="3.33" fill="none" opacity="0.8" filter="url(#bl2)"/><path d="M66,449.83C69,451.63 78,456.79 84,460.65C90,464.5 96,469.18 102,472.94C108,476.7 114,479.87 120,483.22C126,486.57 132.33,489.85 138,493.01C143.67,496.18 149.17,499.39 154,502.2C158.83,505.01 162.33,509.71 167,509.87C171.67,510.03 176.5,505.25 182,503.18C187.5,501.1 193.67,499.87 200,497.41C206.33,494.94 213.33,491.19 220,488.41C226.67,485.63 233.33,483.72 240,480.74C246.67,477.76 253.33,473.82 260,470.52C266.67,467.22 273.83,464.13 280,460.94C286.17,457.75 294.17,452.97 297,451.37" stroke="#0630d0" stroke-width="4.13" fill="none" opacity="0.35" filter="url(#bl2)"/><path d="M66,454.95C69,456.56 78,461.01 84,464.58C90,468.15 96,472.25 102,476.37C108,480.49 114,484.92 120,489.3C126,493.68 132.33,498.61 138,502.67C143.67,506.73 149.17,510.45 154,513.67C158.83,516.9 162.33,521.63 167,522.04C171.67,522.45 176.5,518.82 182,516.12C187.5,513.41 193.67,509.39 200,505.83C206.33,502.27 213.33,498.3 220,494.75C226.67,491.2 233.33,487.81 240,484.54C246.67,481.26 253.33,478.2 260,475.09C266.67,471.97 273.83,468.49 280,465.86C286.17,463.23 294.17,460.41 297,459.32" stroke="#3588ff" stroke-width="3.32" fill="none" opacity="0.65" filter="url(#bl2)"/><path d="M70,396 Q74,440 84,466" stroke="#0630d8" stroke-width="4" fill="none" filter="url(#bl2)" opacity="0.7"/><path d="M290,404 Q296,440 284,476" stroke="#0630d8" stroke-width="4" fill="none" filter="url(#bl2)" opacity="0.7"/><path d="M76,398.5 L166,454 L278,401.5" stroke="#1aa8ff" stroke-width="3" fill="none" filter="url(#bl1)" opacity="0.8"/></g>
<g clip-path="url(#cSL)"><rect x="76" y="365" width="94" height="95" fill="#0b3eef"/><path d="M84,381 L162,413" stroke="#0626d4" stroke-width="9" filter="url(#bl3)"/><path d="M82,384 L166,438.5" stroke="#1878ff" stroke-width="7" filter="url(#bl3)" opacity="0.8"/><path d="M82,389 L166,443.5" stroke="#10d8ff" stroke-width="6.5" filter="url(#bl2)"/><path d="M82,392.5 L166,447" stroke="#70ffa0" stroke-width="3" filter="url(#bl1)"/><path d="M82,395.4 L166,449.9" stroke="#ffee00" stroke-width="3.6" filter="url(#bl1)"/><path d="M82,397.8 L166,452.3" stroke="#ff9a00" stroke-width="1.8" filter="url(#bl1)"/><path d="M82,399 L166,453.5" stroke="#ff2a00" stroke-width="1.1" filter="url(#bl1)"/><path d="M83.5,378 L83.5,398" stroke="#12d4ff" stroke-width="4" filter="url(#bl1)"/><path d="M82.6,386 L82.6,399" stroke="#ffe000" stroke-width="2.6" filter="url(#bl1)"/><path d="M81.6,390 L81.6,400" stroke="#ff2000" stroke-width="2.6" filter="url(#bl1)"/><path d="M156,447.5 L166,453" stroke="#ff1800" stroke-width="4" filter="url(#bl1)"/></g>
<g clip-path="url(#cSR)"><rect x="160" y="365" width="122" height="95" fill="#0b3eef"/><path d="M170,418 L274,385" stroke="#0626d4" stroke-width="10" filter="url(#bl3)"/><path d="M166,438.5 L277,386.8" stroke="#1878ff" stroke-width="7" filter="url(#bl3)" opacity="0.8"/><path d="M166,443.5 L277,391.8" stroke="#10d8ff" stroke-width="6.5" filter="url(#bl2)"/><path d="M166,447 L277,395.3" stroke="#70ffa0" stroke-width="3" filter="url(#bl1)"/><path d="M166,449.9 L277,398.2" stroke="#ffee00" stroke-width="3.6" filter="url(#bl1)"/><path d="M166,452.3 L277,400.6" stroke="#ff9a00" stroke-width="1.8" filter="url(#bl1)"/><path d="M166,453.5 L277,401.8" stroke="#ff2a00" stroke-width="1.1" filter="url(#bl1)"/><path d="M274.6,382 L274.6,401" stroke="#12d4ff" stroke-width="4" filter="url(#bl1)"/><path d="M275.8,388 L275.8,402" stroke="#ffe000" stroke-width="2.6" filter="url(#bl1)"/><path d="M276.8,392 L276.8,403" stroke="#ff2000" stroke-width="2.6" filter="url(#bl1)"/><path d="M166,453 L176,448.5" stroke="#ff1800" stroke-width="4" filter="url(#bl1)"/></g>
<polygon points="192.5,328.8 81.4,373.4 166,407.5 276.8,376.5" fill="url(#gTop)"/>
<path d="M166,407.5L166,453.5" stroke="#1a1a1a" stroke-width="0.8"/>
<path d="M81.4,373.4L166,407.5L276.8,376.5" stroke="#101a60" stroke-width="0.7" fill="none" opacity="0.7"/>
<clipPath id="cTop"><polygon points="192.5,328.8 81.4,373.4 166,407.5 276.8,376.5"/></clipPath>
<g clip-path="url(#cTop)"><polygon points="192.5,328.8 159.17,342.18 184.55,352.41 217.79,343.11" fill="#0424d8" opacity="0.55" filter="url(#bl3)"/><path d="M81.4,373.4L166,407.5L276.8,376.5" stroke="#0630e0" stroke-width="8" fill="none" opacity="0.6" filter="url(#bl3)"/></g>
<path d="M191.29,324.93L164.26,335.63L184.8,346.28L211.81,336.38ZM164.26,335.63L164.26,347.63M184.8,346.28L184.8,358.28M211.81,336.38L211.81,348.38M219.4,340.62L192.39,350.22L212.93,360.88L239.92,352.08ZM192.39,350.22L192.39,362.22M212.93,360.88L212.93,372.88M239.92,352.08L239.92,364.08M247.5,356.32L220.52,364.82L241.06,375.47L268.02,367.78ZM220.52,364.82L220.52,376.82M241.06,375.47L241.06,387.47M268.02,367.78L268.02,379.78M154.27,339.59L127.23,350.29L147.79,359.84L174.81,349.94ZM127.23,350.29L127.23,362.29M147.79,359.84L147.79,371.84M174.81,349.94L174.81,361.94M182.4,353.77L155.4,363.37L175.96,372.92L202.94,364.13ZM155.4,363.37L155.4,375.37M175.96,372.92L175.96,384.92M202.94,364.13L202.94,376.13M210.54,367.96L183.56,376.46L204.12,386.01L231.08,378.31ZM183.56,376.46L183.56,388.46M204.12,386.01L204.12,398.01M231.08,378.31L231.08,390.31M117.24,354.25L90.21,364.96L110.79,373.4L137.8,363.5ZM90.21,364.96L90.21,376.96M110.79,373.4L110.79,385.4M137.8,363.5L137.8,375.5M145.41,366.93L118.4,376.53L138.98,384.97L165.97,376.18ZM118.4,376.53L118.4,388.53M138.98,384.97L138.98,396.97M165.97,376.18L165.97,388.18M173.58,379.6L146.6,388.1L167.18,396.54L194.14,388.85ZM146.6,388.1L146.6,400.1M167.18,396.54L167.18,408.54M194.14,388.85L194.14,400.85" stroke="#111" stroke-width="0.7" fill="none" opacity="0.85"/>
<path d="M80.8,326.3L167.9,375.9L279.6,334.6M80.8,351.1L167.9,400.7L279.6,359.4" stroke="#2a2a2a" stroke-width="0.7" fill="none" opacity="0.75"/>
<text x="58" y="289.1" font-size="17.4" text-anchor="start" font-family='"Liberation Serif", serif' fill="#111" stroke="#111" stroke-width="0.1" >(C)</text>
</svg>
</body></html>
